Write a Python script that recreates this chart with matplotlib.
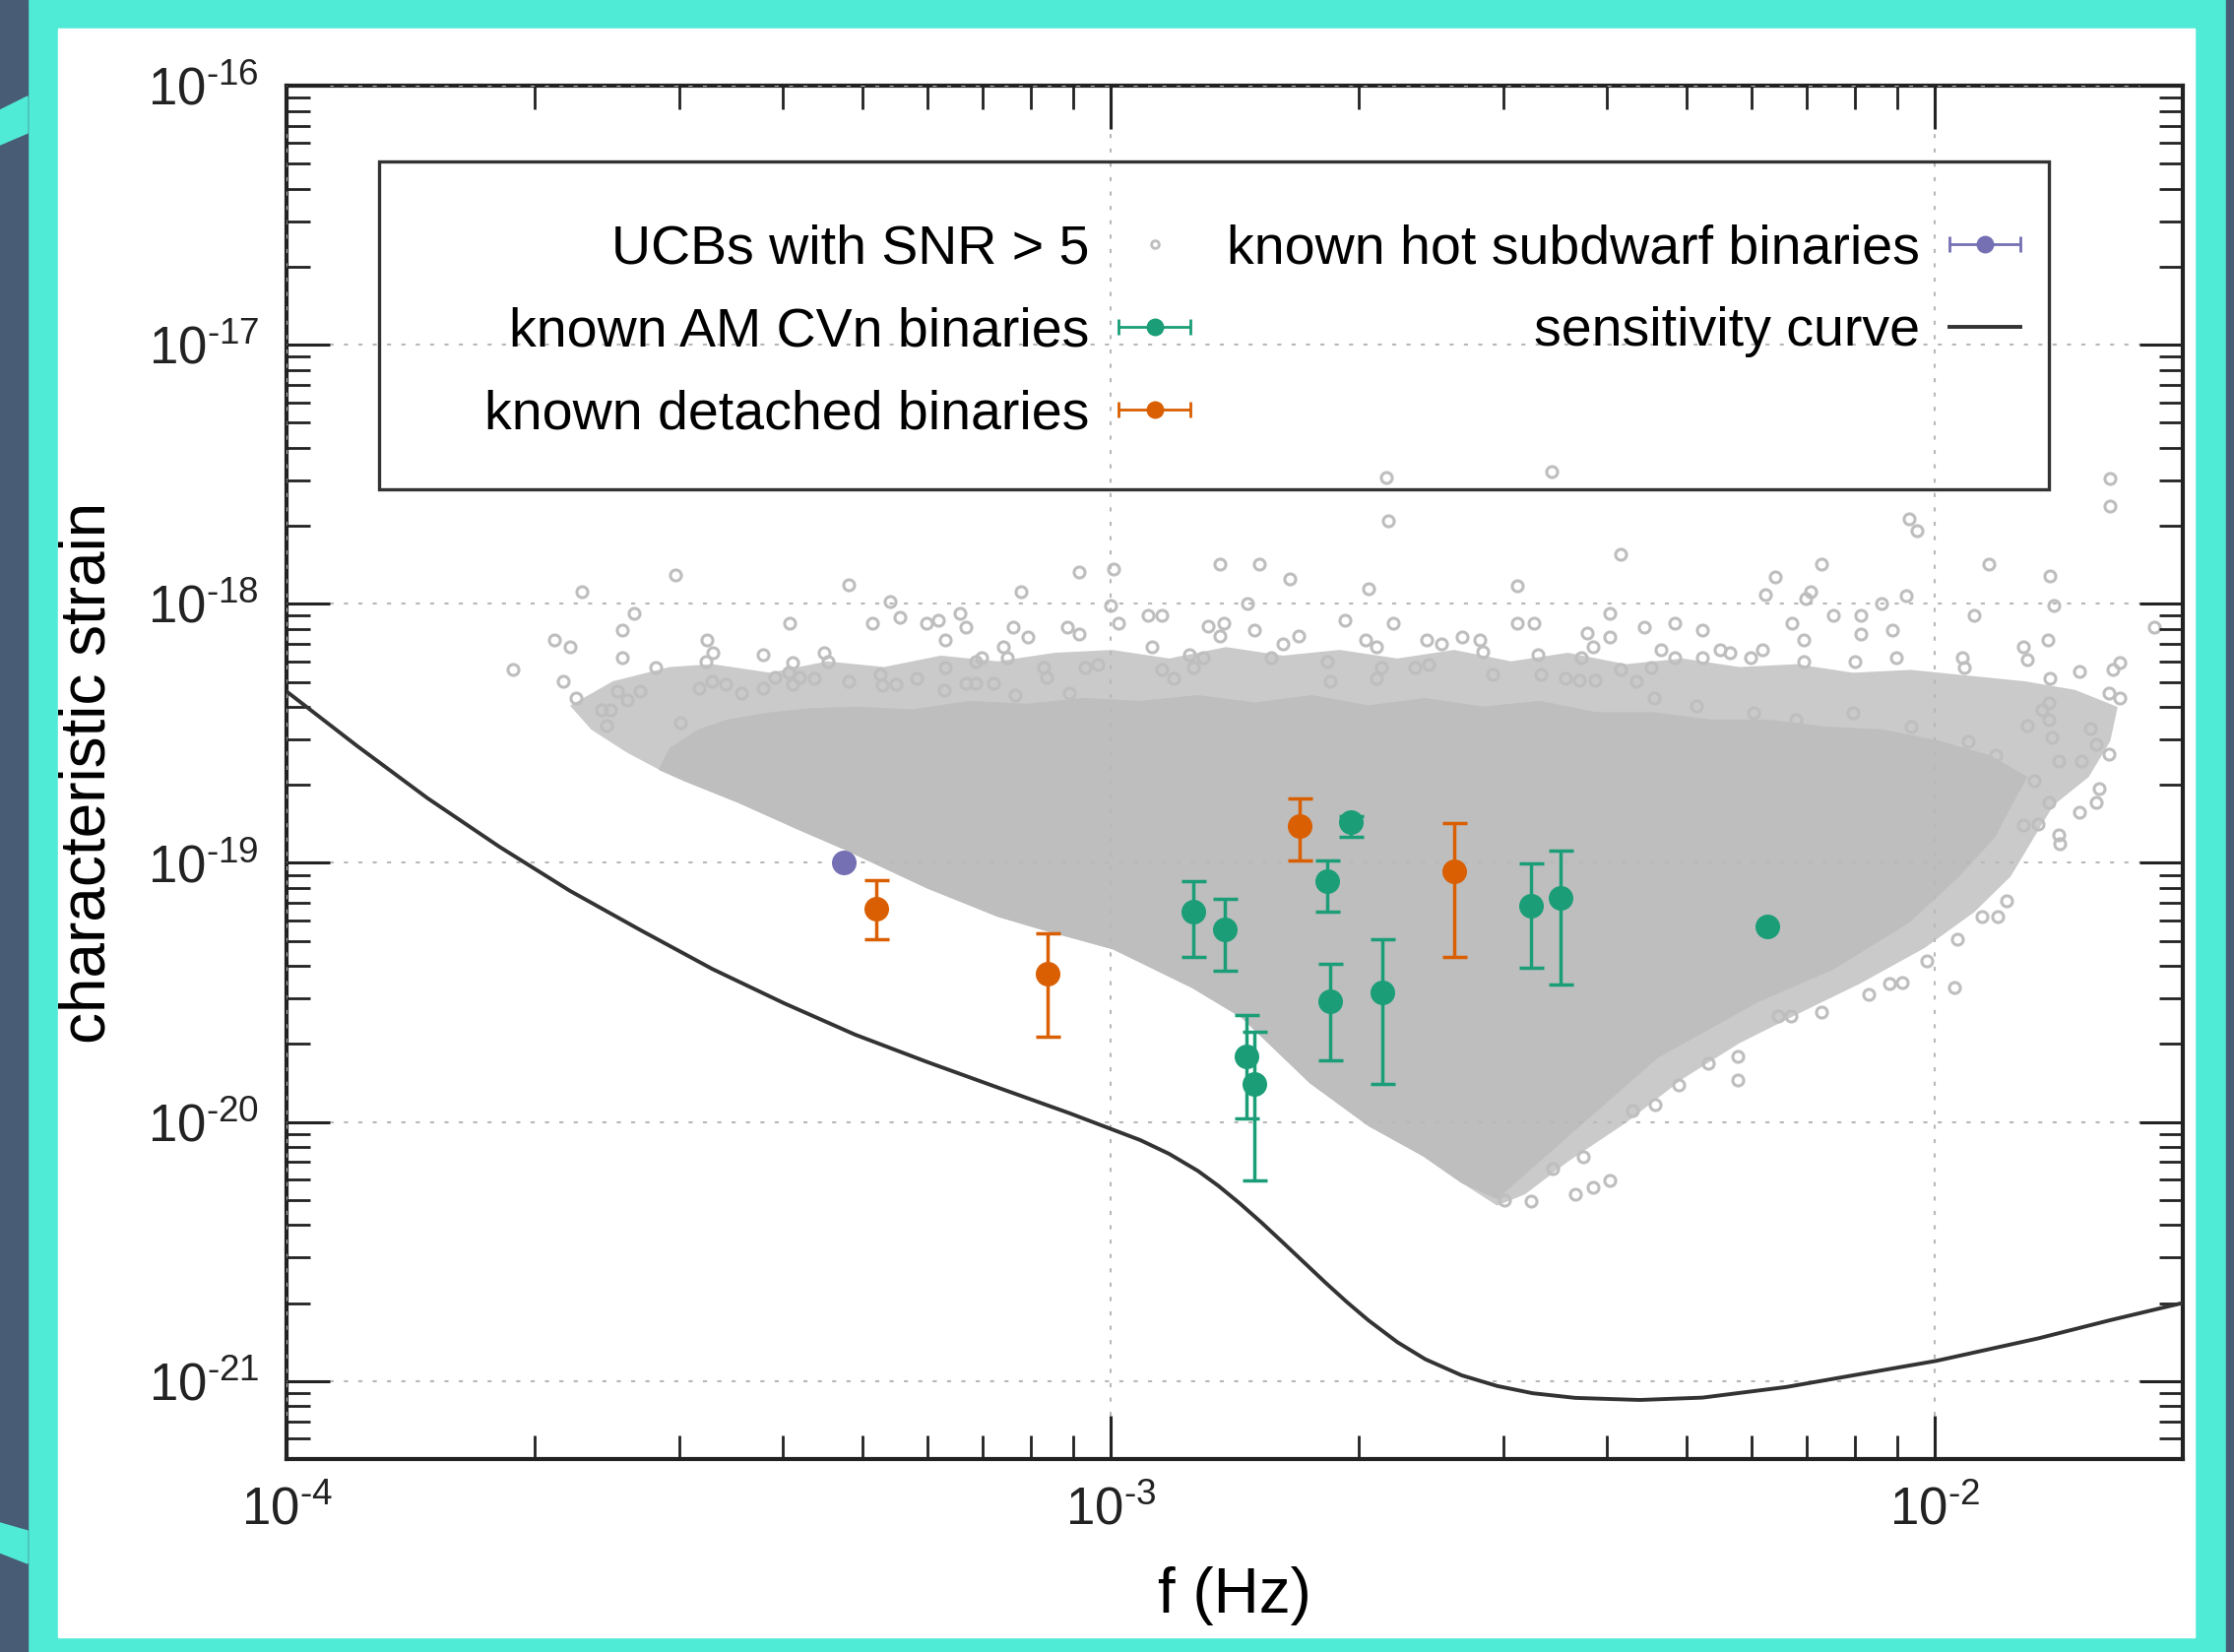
import numpy as np
import matplotlib
matplotlib.use('Agg')
import matplotlib.pyplot as plt
from matplotlib.patches import Rectangle, Polygon
from matplotlib.lines import Line2D
from matplotlib.container import ErrorbarContainer
from matplotlib.legend_handler import HandlerErrorbar
from matplotlib.ticker import LogLocator, NullFormatter, FixedLocator, FuncFormatter

plt.rcParams['font.family'] = 'Liberation Sans'
plt.rcParams['mathtext.fontset'] = 'custom'
plt.rcParams['mathtext.rm'] = 'Liberation Sans'
plt.rcParams['mathtext.it'] = 'Liberation Sans:italic'
plt.rcParams['mathtext.bf'] = 'Liberation Sans:bold'

# sensitivity curve (log10 f, log10 h)
curve_logf = [-4.000, -3.915, -3.829, -3.742, -3.656, -3.569, -3.483, -3.396, -3.310, -3.223,
              -3.137, -3.050, -2.964, -2.929, -2.894, -2.869, -2.843, -2.817, -2.791, -2.765,
              -2.739, -2.713, -2.687, -2.652, -2.618, -2.574, -2.531, -2.488, -2.436, -2.358,
              -2.282, -2.180, -2.099, -1.998, -1.874, -1.787, -1.697]
curve_logh = [-18.338, -18.547, -18.750, -18.937, -19.108, -19.262, -19.410, -19.542, -19.663, -19.768,
              -19.867, -19.966, -20.070, -20.123, -20.189, -20.247, -20.315, -20.388, -20.465, -20.543,
              -20.621, -20.696, -20.766, -20.850, -20.916, -20.978, -21.019, -21.047, -21.065, -21.073,
              -21.064, -21.023, -20.978, -20.922, -20.835, -20.765, -20.697]

# outline of the densely populated core of the UCB population (log10 f, log10 h)
core_logf = [-3.548, -3.535, -3.500, -3.465, -3.413, -3.362, -3.310, -3.241, -3.171, -3.102,
             -3.033, -2.964, -2.894, -2.825, -2.756, -2.687, -2.618, -2.548, -2.479, -2.410,
             -2.341, -2.272, -2.202, -2.133, -2.064, -1.995, -1.934, -1.888, -1.908, -1.927,
             -1.971, -2.031, -2.123, -2.215, -2.336, -2.427, -2.531, -2.574, -2.621, -2.687,
             -2.758, -2.841, -2.901, -2.997, -3.085, -3.137, -3.223, -3.323, -3.379, -3.452,
             -3.517]
core_logh = [-18.640, -18.558, -18.486, -18.448, -18.420, -18.404, -18.398, -18.409, -18.376, -18.387,
             -18.365, -18.376, -18.354, -18.382, -18.354, -18.393, -18.365, -18.398, -18.376, -18.420,
             -18.420, -18.448, -18.448, -18.475, -18.486, -18.530, -18.585, -18.668, -18.783, -18.899,
             -19.053, -19.229, -19.410, -19.537, -19.751, -20.004, -20.296, -20.235, -20.131, -20.015,
             -19.850, -19.597, -19.482, -19.333, -19.256, -19.207, -19.097, -18.948, -18.871, -18.767,
             -18.684]

# outline of the less crowded band around the core
band_logf = [-3.656, -3.604, -3.535, -3.483, -3.413, -3.344, -3.275, -3.206, -3.137, -3.068,
             -2.998, -2.929, -2.860, -2.791, -2.722, -2.652, -2.583, -2.514, -2.445, -2.375,
             -2.306, -2.237, -2.168, -2.099, -2.029, -1.960, -1.891, -1.830, -1.778, -1.787,
             -1.813, -1.856, -1.882, -1.908, -1.952, -2.012, -2.090, -2.168, -2.237, -2.306,
             -2.375, -2.445, -2.497, -2.531, -2.574, -2.621, -2.687, -2.758, -2.841, -2.901,
             -2.997, -3.085, -3.137, -3.223, -3.323, -3.379, -3.452, -3.517, -3.548, -3.587,
             -3.630]
band_logh = [-18.393, -18.299, -18.244, -18.233, -18.266, -18.222, -18.244, -18.200, -18.222, -18.189,
             -18.178, -18.211, -18.167, -18.200, -18.178, -18.211, -18.178, -18.222, -18.189, -18.233,
             -18.211, -18.244, -18.233, -18.266, -18.255, -18.277, -18.299, -18.332, -18.398, -18.530,
             -18.668, -18.778, -18.915, -19.053, -19.190, -19.328, -19.465, -19.586, -19.696, -19.834,
             -20.004, -20.153, -20.279, -20.323, -20.235, -20.131, -20.015, -19.850, -19.597, -19.482,
             -19.333, -19.256, -19.207, -19.097, -18.948, -18.871, -18.767, -18.684, -18.640, -18.574,
             -18.486]

# individual UCBs outside the crowded part (log10 f, log10 h)
ucb_logf = [-3.725, -3.675, -3.656, -3.642, -3.528, -3.578, -3.593, -3.593, -3.552, -3.490,
            -3.483, -3.491, -3.422, -3.389, -3.318, -3.289, -3.268, -3.256, -3.223, -3.209,
            -3.183, -3.176, -3.201, -3.118, -3.100, -3.052, -3.038, -3.038, -3.109, -3.348,
            -3.343, -3.386, -3.201, -3.157, -3.164, -3.130, -3.126, -3.031, -3.016, -3.664,
            -3.649, -3.599, -3.571, -3.587, -3.618, -3.607, -3.612, -3.522, -3.500, -3.484,
            -3.467, -3.422, -3.448, -3.407, -3.391, -3.377, -3.360, -3.386, -3.318, -3.280,
            -3.261, -3.277, -3.235, -3.202, -3.176, -3.164, -3.142, -3.116, -3.081, -3.078,
            -3.050, -2.666, -2.465, -2.663, -2.381, -2.997, -2.867, -2.820, -2.782, -2.687,
            -2.507, -2.834, -3.000, -2.991, -2.955, -2.938, -2.950, -2.882, -2.863, -2.867,
            -2.825, -2.791, -2.805, -2.772, -2.716, -2.657, -2.690, -2.678, -2.616, -2.599,
            -2.574, -2.552, -2.548, -2.507, -2.486, -2.481, -2.394, -2.394, -2.422, -2.415,
            -2.429, -2.737, -2.734, -2.671, -2.678, -2.631, -2.614, -2.536, -2.478, -2.448,
            -2.431, -2.412, -2.381, -2.905, -2.888, -2.900, -2.938, -2.924, -1.787, -1.787,
            -2.031, -2.022, -2.138, -2.194, -2.206, -2.151, -2.156, -2.064, -2.035, -1.934,
            -1.860, -1.855, -1.952, -1.734, -2.353, -2.315, -2.282, -2.123, -2.090, -2.090,
            -2.052, -2.173, -2.159, -1.893, -1.888, -1.863, -1.967, -1.964, -2.047, -2.097,
            -2.159, -2.332, -2.315, -2.282, -2.261, -2.249, -2.209, -2.223, -2.344, -2.362,
            -1.860, -1.825, -1.784, -1.775, -1.789, -1.775, -1.862, -1.870, -1.862, -1.888,
            -1.858, -1.811, -1.804, -1.789, -1.822, -1.850, -1.801, -1.804, -1.825, -1.862,
            -1.875, -1.893, -1.850, -1.848, -1.879, -1.913, -1.924, -1.943, -1.972, -1.976,
            -2.009, -2.040, -2.055, -2.080, -2.138, -2.175, -2.190, -2.239, -2.239, -2.275,
            -2.311, -2.339, -2.367, -2.394, -2.415, -2.436, -2.490, -2.522, -2.464, -2.427,
            -2.341, -2.289, -2.220, -2.168, -2.099, -2.029, -1.960, -1.926]
ucb_logh = [-18.255, -18.140, -18.167, -17.953, -17.887, -18.035, -18.101, -18.206, -18.244, -18.140,
            -18.189, -18.222, -18.195, -18.074, -17.925, -18.074, -17.991, -18.052, -18.074, -18.063,
            -18.035, -18.090, -18.140, -18.090, -18.129, -18.090, -18.118, -17.876, -17.953, -18.189,
            -18.222, -18.228, -18.244, -18.206, -18.222, -18.167, -18.206, -18.244, -18.233, -18.299,
            -18.365, -18.338, -18.338, -18.371, -18.409, -18.409, -18.470, -18.459, -18.327, -18.299,
            -18.310, -18.327, -18.343, -18.283, -18.266, -18.283, -18.288, -18.310, -18.299, -18.272,
            -18.310, -18.316, -18.288, -18.332, -18.305, -18.305, -18.305, -18.354, -18.244, -18.283,
            -18.343, -17.513, -17.491, -17.678, -17.810, -17.865, -17.848, -17.848, -17.903, -17.942,
            -17.931, -17.997, -18.008, -18.074, -18.046, -18.046, -18.167, -18.085, -18.074, -18.123,
            -18.101, -18.156, -18.206, -18.123, -18.063, -18.074, -18.140, -18.167, -18.140, -18.156,
            -18.129, -18.140, -18.184, -18.074, -18.074, -18.195, -18.035, -18.129, -18.112, -18.167,
            -18.206, -18.222, -18.299, -18.244, -18.288, -18.244, -18.233, -18.272, -18.272, -18.288,
            -18.294, -18.294, -18.255, -18.195, -18.206, -18.244, -18.255, -18.288, -17.518, -17.623,
            -17.672, -17.716, -17.848, -17.898, -17.964, -17.953, -17.980, -17.997, -17.969, -17.848,
            -17.892, -18.008, -18.046, -18.090, -18.090, -18.074, -18.101, -18.046, -18.046, -18.118,
            -18.101, -18.074, -18.140, -18.167, -18.217, -18.140, -18.206, -18.244, -18.206, -18.222,
            -18.222, -18.178, -18.206, -18.206, -18.178, -18.189, -18.178, -18.206, -18.244, -18.299,
            -18.288, -18.261, -18.255, -18.228, -18.343, -18.365, -18.382, -18.409, -18.448, -18.470,
            -18.514, -18.481, -18.541, -18.580, -18.607, -18.607, -18.712, -18.767, -18.805, -18.767,
            -18.849, -18.855, -18.893, -18.926, -18.684, -19.146, -19.207, -19.207, -19.295, -19.482,
            -19.377, -19.460, -19.465, -19.509, -19.575, -19.592, -19.592, -19.746, -19.839, -19.773,
            -19.856, -19.933, -19.955, -20.224, -20.252, -20.279, -20.307, -20.301, -20.180, -20.136,
            -18.365, -18.393, -18.420, -18.448, -18.420, -18.475, -18.530, -18.585]

# known AM CVn binaries: f (Hz), h, lower and upper bound of h
amcvn_f = [1.259e-3, 1.374e-3, 1.462e-3, 1.493e-3, 1.832e-3, 1.849e-3, 1.958e-3, 2.138e-3, 3.236e-3, 3.52e-3]
amcvn_h = [6.46e-20, 5.55e-20, 1.79e-20, 1.40e-20, 8.53e-20, 2.92e-20, 1.432e-19, 3.17e-20, 6.86e-20, 7.30e-20]
amcvn_lo = [4.35e-20, 3.82e-20, 1.03e-20, 5.96e-21, 6.46e-20, 1.73e-20, 1.265e-19, 1.40e-20, 3.94e-20, 3.38e-20]
amcvn_hi = [8.47e-20, 7.26e-20, 2.58e-20, 2.22e-20, 1.019e-19, 4.06e-20, 1.514e-19, 5.06e-20, 9.95e-20, 1.111e-19]
amcvn_single_f = [6.27e-3]
amcvn_single_h = [5.71e-20]

# known detached binaries
detached_f = [5.19e-4, 8.39e-4, 1.694e-3, 2.61e-3]
detached_h = [6.65e-20, 3.72e-20, 1.393e-19, 9.25e-20]
detached_lo = [5.06e-20, 2.14e-20, 1.019e-19, 4.33e-20]
detached_hi = [8.55e-20, 5.36e-20, 1.77e-19, 1.419e-19]

# known hot subdwarf binaries
sdb_f = [4.75e-4]
sdb_h = [1.0e-19]

xticks = [1e-4, 1e-3, 1e-2]
yticks = [1e-21, 1e-20, 1e-19, 1e-18, 1e-17, 1e-16]

labels = ['UCBs with SNR > 5', 'known AM CVn binaries', 'known detached binaries',
          'known hot subdwarf binaries', 'sensitivity curve']

grey = '#bebebe'
band_grey = '#cacaca'
green = '#1b9e77'
orange = '#d95f02'
purple = '#7570b3'
cyan = '#50ebd6'
slate = '#485c76'

W, H = 2269, 1678
fig = plt.figure(figsize=(W / 100, H / 100), dpi=100)
fig.patch.set_facecolor(cyan)

def fig_xy(pts):
    return [(x / W, 1 - y / H) for x, y in pts]

fig.add_artist(Rectangle((59 / W, 1 - 1663 / H), (2229 - 59) / W, (1663 - 29) / H,
                         transform=fig.transFigure, color='white', zorder=-5))
fig.add_artist(Rectangle((0, 0), 28 / W, 1, transform=fig.transFigure, color=slate, zorder=-5))
fig.add_artist(Rectangle((2261 / W, 0), 8 / W, 1, transform=fig.transFigure, color=slate, zorder=-5))
fig.add_artist(Polygon(fig_xy([(0, 112), (28, 98), (28, 135), (0, 147)]),
                       transform=fig.transFigure, color=cyan, zorder=-4))
fig.add_artist(Polygon(fig_xy([(0, 1547), (28, 1555), (28, 1588), (0, 1577)]),
                       transform=fig.transFigure, color=cyan, zorder=-4))

ax = fig.add_axes([291 / W, 1 - 1482 / H, 1926 / W, 1395 / H])
ax.set_xscale('log')
ax.set_yscale('log')
ax.set_xlim(1e-4, 2e-2)
ax.set_ylim(5e-22, 1e-16)

ax.fill(10 ** np.array(band_logf), 10 ** np.array(band_logh), color=band_grey, lw=0, zorder=1)
ax.fill(10 ** np.array(core_logf), 10 ** np.array(core_logh), color=grey, lw=0.5, zorder=1.1)
ax.plot(10 ** np.array(ucb_logf), 10 ** np.array(ucb_logh), 'o', ls='none', mfc='none',
        mec=grey, ms=8, mew=2.2, zorder=1.5)

ax.plot(10 ** np.array(curve_logf), 10 ** np.array(curve_logh), color='#333333', lw=2.8,
        solid_joinstyle='round', zorder=3)

def with_bars(f, h, lo, hi, color):
    h = np.array(h)
    yerr = [h - np.array(lo), np.array(hi) - h]
    ax.errorbar(f, h, yerr=yerr, fmt='o', color=color, ms=17, elinewidth=2.5,
                capsize=9, capthick=2.5, zorder=4)

with_bars(amcvn_f, amcvn_h, amcvn_lo, amcvn_hi, green)
with_bars(detached_f, detached_h, detached_lo, detached_hi, orange)
ax.plot(amcvn_single_f, amcvn_single_h, 'o', color=green, ms=17, zorder=4)
ax.plot(sdb_f, sdb_h, 'o', color=purple, ms=17, zorder=4)

ax.set_axisbelow(False)
ax.grid(True, which='major', color='#b8b8b8', lw=1.5, ls=(0, (2, 5)))

def decade_label(v, pos):
    return r'$\mathdefault{10^{\text{-}%d}}$' % round(-np.log10(v))

ax.xaxis.set_major_locator(FixedLocator(xticks))
ax.yaxis.set_major_locator(FixedLocator(yticks))
ax.xaxis.set_major_formatter(FuncFormatter(decade_label))
ax.yaxis.set_major_formatter(FuncFormatter(decade_label))
ax.xaxis.set_minor_locator(LogLocator(base=10, subs=np.arange(2, 10), numticks=100))
ax.yaxis.set_minor_locator(LogLocator(base=10, subs=np.arange(2, 10), numticks=100))
ax.xaxis.set_minor_formatter(NullFormatter())
ax.yaxis.set_minor_formatter(NullFormatter())
ax.tick_params(which='both', direction='in', top=True, right=True, colors='#222222')
ax.tick_params(which='major', length=32, width=2.2, labelsize=38, pad=20)
ax.tick_params(which='minor', length=17, width=2.0)
for s in ax.spines.values():
    s.set_linewidth(3)
    s.set_color('#222222')

ax.set_xlabel('f (Hz)', fontsize=46)
ax.set_ylabel('characteristic strain', fontsize=46)
ax.xaxis.set_label_coords(0.5, -0.078)
ax.yaxis.set_label_coords(-0.089, 0.5)

# legend handles
ucb_handle = Line2D([], [], ls='none', marker='o', mfc='none', mec=grey, ms=8, mew=2.0)
sens_handle = Line2D([], [], color='#333333', lw=2.8)

def bar_handle(color):
    return ax.errorbar([np.nan], [np.nan], xerr=[1.0], fmt='o', color=color, ms=17,
                       elinewidth=2, capsize=6, capthick=2)

handles = [ucb_handle, bar_handle(green), bar_handle(orange), bar_handle(purple), sens_handle]
ax.legend(handles, labels, ncol=2, markerfirst=False, loc='upper right',
          bbox_to_anchor=(0.9143, 0.8995), frameon=False, fontsize=40, borderpad=0,
          borderaxespad=0, labelspacing=0.58, handlelength=1.3, handletextpad=0.54,
          columnspacing=0.67, markerscale=0.7,
          handler_map={ErrorbarContainer: HandlerErrorbar(xerr_size=0.65)})
ax.add_patch(Rectangle((0.0488, 0.7064), 0.8806, 0.2386, transform=ax.transAxes,
                       fill=False, lw=2.4, ec='#333333', zorder=5))

fig.savefig('out.png', dpi=100)
